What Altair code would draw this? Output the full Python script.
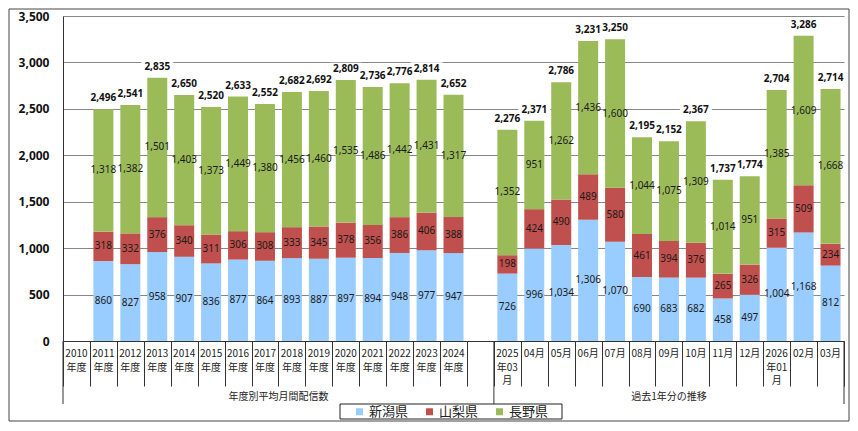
import altair as alt
import pandas as pd

JP = "Noto Sans CJK JP"
NUM = "Noto Sans"

categories = [
    "2010\n年度", "2011\n年度", "2012\n年度", "2013\n年度", "2014\n年度",
    "2015\n年度", "2016\n年度", "2017\n年度", "2018\n年度", "2019\n年度",
    "2020\n年度", "2021\n年度", "2022\n年度", "2023\n年度", "2024\n年度",
    " ",
    "2025\n年03\n月", "04月", "05月", "06月", "07月", "08月", "09月",
    "10月", "11月", "12月", "2026\n年01\n月", "02月", "03月",
]
bar_categories = [
    "2011\n年度", "2012\n年度", "2013\n年度", "2014\n年度",
    "2015\n年度", "2016\n年度", "2017\n年度", "2018\n年度", "2019\n年度",
    "2020\n年度", "2021\n年度", "2022\n年度", "2023\n年度", "2024\n年度",
    "2025\n年03\n月", "04月", "05月", "06月", "07月", "08月", "09月",
    "10月", "11月", "12月", "2026\n年01\n月", "02月", "03月",
]
prefs = ["新潟県", "山梨県", "長野県"]
colors = ["#99CCFF", "#C0504D", "#9BBB59"]

niigata = [860, 827, 958, 907, 836, 877, 864, 893, 887, 897, 894, 948, 977, 947,
           726, 996, 1034, 1306, 1070, 690, 683, 682, 458, 497, 1004, 1168, 812]
yamanashi = [318, 332, 376, 340, 311, 306, 308, 333, 345, 378, 356, 386, 406, 388,
             198, 424, 490, 489, 580, 461, 394, 376, 265, 326, 315, 509, 234]
nagano = [1318, 1382, 1501, 1403, 1373, 1449, 1380, 1456, 1460, 1535, 1486, 1442, 1431, 1317,
          1352, 951, 1262, 1436, 1600, 1044, 1075, 1309, 1014, 951, 1385, 1609, 1668]
totals = [2496, 2541, 2835, 2650, 2520, 2633, 2552, 2682, 2692, 2809, 2736, 2776, 2814, 2652,
          2276, 2371, 2786, 3231, 3250, 2195, 2152, 2367, 1737, 1774, 2704, 3286, 2714]

group_labels = ["年度別平均月間配信数", "過去1年分の推移"]
y_ticks = [0, 500, 1000, 1500, 2000, 2500, 3000, 3500]

# long-form table built from the arrays
rows = []
for i, c in enumerate(bar_categories):
    base = 0
    for k, (p, vals) in enumerate(zip(prefs, [niigata, yamanashi, nagano])):
        v = vals[i]
        rows.append({"cat": c, "pref": p, "order": k, "value": v,
                     "y0": base, "y1": base + v, "mid": base + v / 2})
        base += v
df = pd.DataFrame(rows)
tot_df = pd.DataFrame({"cat": bar_categories, "total": totals})

# category label lines
line_rows = []
for c in categories:
    for j, t in enumerate(c.split("\n"), start=1):
        line_rows.append({"cat": c, "line": j, "txt": t})
lines_df = pd.DataFrame(line_rows)

xscale = alt.Scale(domain=categories, paddingInner=0, paddingOuter=0)
xaxis = alt.Axis(
    title=None, labels=False,
    tickBand="extent", tickSize=45, tickColor="#333", tickWidth=1,
    domainColor="#333", domainWidth=1, grid=False,
)
yscale = alt.Scale(domain=[0, 3500], nice=False)
yaxis = alt.Axis(
    title=None, values=y_ticks, format=",d", labelFont=NUM, labelFontSize=12,
    labelFontWeight="bold", labelColor="#111", labelPadding=14, ticks=False,
    domainColor="#333", gridColor="#868686", gridWidth=1,
)


def X(**kw):
    return alt.X("cat:N", scale=xscale, axis=xaxis, title=None, **kw)


one = pd.DataFrame({"a": [0]})

border = alt.Chart(one).mark_rect(fillOpacity=0, stroke="#444", strokeWidth=1).encode(
    x=alt.value(-54), x2=alt.value(786), y=alt.value(-7), y2=alt.value(405)
)

legend_box = alt.Chart(one).mark_rect(fill="white", stroke="#222", strokeWidth=1).encode(
    x=alt.value(277), x2=alt.value(499), y=alt.value(388), y2=alt.value(403)
)

bars = alt.Chart(df).mark_bar(size=20).encode(
    x=X(),
    y=alt.Y("y0:Q", scale=yscale, axis=yaxis, title=None),
    y2="y1:Q",
    color=alt.Color(
        "pref:N",
        scale=alt.Scale(domain=prefs, range=colors),
        legend=alt.Legend(
            orient="none", legendX=290, legendY=389, direction="horizontal",
            title=None, symbolType="square", symbolSize=49, symbolStrokeWidth=0,
            labelFont=JP, labelFontSize=13, labelColor="#222", labelOffset=3,
            columnPadding=14, padding=0,
        ),
    ),
    order="order:O",
)

seg_labels = alt.Chart(df).mark_text(font=NUM, fontSize=10, color="#1a1a1a").encode(
    x=X(),
    y=alt.Y("mid:Q", scale=yscale, axis=yaxis, title=None),
    text=alt.Text("value:Q", format=","),
)

tot_boxes = alt.Chart(tot_df).mark_point(
    shape="M-1,-0.4H1V0.4H-1Z", filled=True, color="white", opacity=1,
    strokeWidth=0, size=1024, yOffset=-11,
).encode(
    x=X(),
    y=alt.Y("total:Q", scale=yscale, axis=yaxis, title=None),
)

tot_labels = alt.Chart(tot_df).mark_text(
    font=NUM, fontSize=10, fontWeight="bold", color="#111", dy=-11
).encode(
    x=X(),
    y=alt.Y("total:Q", scale=yscale, axis=yaxis, title=None),
    text=alt.Text("total:Q", format=","),
)


def cat_line(n, ypos):
    return alt.Chart(lines_df).transform_filter(f"datum.line == {n}").mark_text(
        font=JP, fontSize=10, color="#222", baseline="top"
    ).encode(x=X(), y=alt.value(ypos), text="txt:N")


line1 = cat_line(1, 333)
line2 = cat_line(2, 346.5)
line3 = cat_line(3, 360)

sep_start = alt.Chart(pd.DataFrame({"cat": [categories[0], categories[16]]})).mark_rule(
    color="#333", strokeWidth=1
).encode(x=X(bandPosition=0), y=alt.value(325), y2=alt.value(388))

sep_end = alt.Chart(pd.DataFrame({"cat": [categories[-1]]})).mark_rule(
    color="#333", strokeWidth=1
).encode(x=X(bandPosition=1), y=alt.value(325), y2=alt.value(388))

glabel1 = alt.Chart(pd.DataFrame({"cat": [categories[8]], "label": [group_labels[0]]})).mark_text(
    font=JP, fontSize=10, color="#222", baseline="middle"
).encode(x=X(bandPosition=0), y=alt.value(381), text="label:N")

glabel2 = alt.Chart(pd.DataFrame({"cat": [categories[22]], "label": [group_labels[1]]})).mark_text(
    font=JP, fontSize=10, color="#222", baseline="middle"
).encode(x=X(bandPosition=0.5), y=alt.value(381), text="label:N")

chart = alt.layer(
    border, legend_box, bars, seg_labels, tot_boxes, tot_labels,
    line1, line2, line3, sep_start, sep_end, glabel1, glabel2,
).properties(width=781, height=325, padding=0).configure_view(strokeWidth=0)

chart.save("out.html", embed_options={"renderer": "svg", "actions": False})
